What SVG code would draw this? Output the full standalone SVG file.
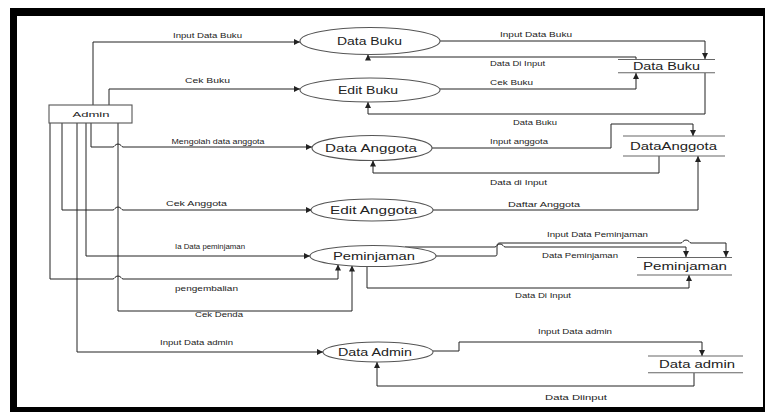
<svg xmlns="http://www.w3.org/2000/svg" width="765" height="412" viewBox="0 0 765 412">
  <style>
    .frame { fill: #000; }
    .page { fill: #fff; }
    .proc { fill: #fff; stroke: #555; stroke-width: 1.1; }
    .ent { fill: #fff; stroke: #555; stroke-width: 1.1; }
    .store { stroke: #666; stroke-width: 1.1; fill: none; }
    .flow { fill: none; stroke: #222; stroke-width: 1; }
    .arrow { marker-end: url(#head); }
    .lbl { font-family: "Liberation Sans", Arial, sans-serif; font-size: 7px; fill: #222; text-anchor: middle; }
    .big { font-family: "Liberation Sans", Arial, sans-serif; font-size: 10px; fill: #222; text-anchor: middle; }
  </style>
  <defs>
    <marker id="head" viewBox="0 0 10 10" refX="10" refY="5" markerWidth="6" markerHeight="6" markerUnits="userSpaceOnUse" orient="auto">
      <path d="M0,0 L10,5 L0,10 z" fill="#222"/>
    </marker>
  </defs>

  <!-- page frame -->
  <rect class="frame" x="10" y="8" width="755" height="404"/>
  <rect class="page" x="17" y="16" width="746" height="391"/>

  <!-- data flows -->
  <g id="connectors">
    <path class="flow arrow" d="M93,105 V42 H300"/>
    <path class="flow arrow" d="M109,105 V89 H300"/>
    <path class="flow arrow" d="M91,123 V147 H113 c1.5,0 2,-3 5,-3 c3,0 3.5,3 5,3 H312"/>
    <path class="flow arrow" d="M62,123 V210 H113 c1.5,0 2,-3 5,-3 c3,0 3.5,3 5,3 H312"/>
    <path class="flow arrow" d="M86,123 V256 H310"/>
    <path class="flow arrow" d="M50,123 V279 H113 c1.5,0 2,-3 5,-3 c3,0 3.5,3 5,3 H338 V264.5"/>
    <path class="flow arrow" d="M118,123 V311 H352 V265.5"/>
    <path class="flow arrow" d="M77,123 V352 H323"/>

    <path class="flow arrow" d="M440,41 H705 V59"/>
    <path class="flow arrow" d="M636,59 V57 H368 V54.5"/>
    <path class="flow arrow" d="M440,89 H636 V73"/>
    <path class="flow arrow" d="M705,73 V114 H368 V102"/>

    <path class="flow arrow" d="M432,148 H611 V124 H693 V136"/>
    <path class="flow arrow" d="M659,156 V173 H373 V160.5"/>
    <path class="flow arrow" d="M433,210 H698 V156"/>

    <path class="flow arrow" d="M436,256 H495 c2,0 2,-1 2,-3 V246 c0,-2 1,-3 3,-3 H681 c1.5,0 2,-3 5,-3 c3,0 3.5,3 5,3 H726 V257"/>
    <path class="flow arrow" d="M405,247 H495 c1.5,0 2,-3 5,-3 c3,0 3.5,3 5,3 H686 V257"/>
    <path class="flow arrow" d="M367,266 V288 H689 V275"/>

    <path class="flow arrow" d="M433,351 H459 V342 H702 V356"/>
    <path class="flow arrow" d="M694,373 V386 H377 V362"/>
  </g>

  <!-- flow labels -->
  <g id="flow-labels">
    <text class="lbl" x="207.5" y="37.5" textLength="69" lengthAdjust="spacingAndGlyphs">Input Data Buku</text>
    <text class="lbl" x="207.5" y="82.5" textLength="45" lengthAdjust="spacingAndGlyphs">Cek Buku</text>
    <text class="lbl" x="218" y="143.5" textLength="93" lengthAdjust="spacingAndGlyphs">Mengolah data anggota</text>
    <text class="lbl" x="196.5" y="205.5" textLength="61" lengthAdjust="spacingAndGlyphs">Cek Anggota</text>
    <text class="lbl" x="210" y="249" textLength="70" lengthAdjust="spacingAndGlyphs">Ia Data peminjaman</text>
    <text class="lbl" x="206.5" y="290.5" textLength="63" lengthAdjust="spacingAndGlyphs">pengembalian</text>
    <text class="lbl" x="219" y="317" textLength="48" lengthAdjust="spacingAndGlyphs">Cek Denda</text>
    <text class="lbl" x="196.5" y="345" textLength="73" lengthAdjust="spacingAndGlyphs">Input Data admin</text>

    <text class="lbl" x="536" y="36.5" textLength="72" lengthAdjust="spacingAndGlyphs">Input Data Buku</text>
    <text class="lbl" x="517.5" y="65.5" textLength="55" lengthAdjust="spacingAndGlyphs">Data Di Input</text>
    <text class="lbl" x="511.5" y="84.5" textLength="43" lengthAdjust="spacingAndGlyphs">Cek Buku</text>
    <text class="lbl" x="535" y="124.5" textLength="44" lengthAdjust="spacingAndGlyphs">Data Buku</text>
    <text class="lbl" x="519" y="144" textLength="58" lengthAdjust="spacingAndGlyphs">Input anggota</text>
    <text class="lbl" x="518.5" y="184.5" textLength="57" lengthAdjust="spacingAndGlyphs">Data di Input</text>
    <text class="lbl" x="544" y="206.5" textLength="72" lengthAdjust="spacingAndGlyphs">Daftar Anggota</text>
    <text class="lbl" x="597.5" y="236.5" textLength="101" lengthAdjust="spacingAndGlyphs">Input Data Peminjaman</text>
    <text class="lbl" x="580" y="258" textLength="76" lengthAdjust="spacingAndGlyphs">Data Peminjaman</text>
    <text class="lbl" x="543" y="297.5" textLength="56" lengthAdjust="spacingAndGlyphs">Data Di Input</text>
    <text class="lbl" x="575" y="333.5" textLength="74" lengthAdjust="spacingAndGlyphs">Input Data admin</text>
    <text class="lbl" x="576" y="399.5" textLength="62" lengthAdjust="spacingAndGlyphs">Data Diinput</text>
  </g>

  <!-- external entity -->
  <g id="admin">
    <rect class="ent" x="49" y="105" width="83" height="18"/>
    <text class="lbl" x="91" y="116.5" style="font-size:8px" textLength="37" lengthAdjust="spacingAndGlyphs">Admin</text>
  </g>

  <!-- processes -->
  <g id="p-data-buku">
    <ellipse class="proc" cx="370" cy="41" rx="70" ry="13.5"/>
    <text class="big" x="369.5" y="45" textLength="65" lengthAdjust="spacingAndGlyphs">Data Buku</text>
  </g>
  <g id="p-edit-buku">
    <ellipse class="proc" cx="370" cy="90" rx="70" ry="12"/>
    <text class="big" x="368" y="93.5" textLength="60" lengthAdjust="spacingAndGlyphs">Edit Buku</text>
  </g>
  <g id="p-data-anggota">
    <ellipse class="proc" cx="372" cy="148" rx="60" ry="12.5"/>
    <text class="big" x="371" y="151.5" textLength="92" lengthAdjust="spacingAndGlyphs">Data Anggota</text>
  </g>
  <g id="p-edit-anggota">
    <ellipse class="proc" cx="372" cy="210" rx="61" ry="11"/>
    <text class="big" x="373.5" y="213.5" textLength="87" lengthAdjust="spacingAndGlyphs">Edit Anggota</text>
  </g>
  <g id="p-peminjaman">
    <ellipse class="proc" cx="373" cy="256" rx="63" ry="10.5"/>
    <text class="big" x="374" y="259.5" textLength="82" lengthAdjust="spacingAndGlyphs">Peminjaman</text>
  </g>
  <g id="p-data-admin">
    <ellipse class="proc" cx="378" cy="352" rx="55" ry="10"/>
    <text class="big" x="375" y="355.5" textLength="74" lengthAdjust="spacingAndGlyphs">Data Admin</text>
  </g>

  <!-- data stores -->
  <g id="s-data-buku">
    <path class="store" d="M618,59.5 H715 M618,72.8 H715"/>
    <text class="big" x="666.5" y="69.5" textLength="67" lengthAdjust="spacingAndGlyphs">Data Buku</text>
  </g>
  <g id="s-data-anggota">
    <path class="store" d="M623,136 H725 M623,156 H725"/>
    <text class="big" x="673.5" y="149.5" textLength="87" lengthAdjust="spacingAndGlyphs">DataAnggota</text>
  </g>
  <g id="s-peminjaman">
    <path class="store" d="M637,257.5 H732 M637,275 H732"/>
    <text class="big" x="685" y="269.5" textLength="84" lengthAdjust="spacingAndGlyphs">Peminjaman</text>
  </g>
  <g id="s-data-admin">
    <path class="store" d="M648,356 H743 M648,372.8 H743"/>
    <text class="big" x="697" y="367.5" textLength="76" lengthAdjust="spacingAndGlyphs">Data admin</text>
  </g>
</svg>
